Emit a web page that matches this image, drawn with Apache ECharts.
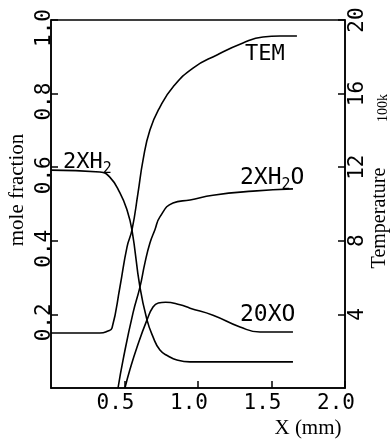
<!DOCTYPE html>
<html>
<head>
<meta charset="utf-8">
<script src="https://cdn.jsdelivr.net/npm/echarts@6/dist/echarts.min.js"></script>
<style>
html,body{margin:0;padding:0;background:#fff;}
#c{width:390px;height:439px;}
</style>
</head>
<body>
<div id="c"></div>
<script>
// ---- data ----
const xTickLabels = ['0.5', '1.0', '1.5', '2.0'];
const leftTickLabels = ['0.2', '0.4', '0.6', '0.8', '1.0'];
const rightTickLabels = ['4', '8', '12', '16', '20'];

// 2XH2 mole fraction
const h2X = [0, 0.333, 0.40, 0.469, 0.517, 0.551, 0.605, 0.653, 0.694, 0.741, 0.796, 0.857, 0.946, 1.10, 1.30, 1.50, 1.646];
const h2Y = [0.592, 0.587, 0.573, 0.530, 0.484, 0.429, 0.274, 0.185, 0.139, 0.103, 0.087, 0.076, 0.071, 0.071, 0.071, 0.071, 0.071];

// 2XH2O mole fraction
const h2oX = [0.456, 0.490, 0.558, 0.605, 0.639, 0.673, 0.707, 0.741, 0.830, 0.946, 1.102, 1.374, 1.646];
const h2oY = [0.0, 0.076, 0.204, 0.274, 0.340, 0.394, 0.430, 0.465, 0.503, 0.511, 0.524, 0.535, 0.541];

// 20XO mole fraction
const oX = [0.503, 0.537, 0.585, 0.653, 0.694, 0.730, 0.780, 0.878, 0.946, 1.102, 1.286, 1.422, 1.646];
const oY = [0.0, 0.050, 0.111, 0.185, 0.220, 0.231, 0.233, 0.226, 0.217, 0.198, 0.166, 0.152, 0.152];

// Temperature (100 K)
const temX = [0, 0.333, 0.388, 0.415, 0.469, 0.517, 0.551, 0.592, 0.626, 0.673, 0.741, 0.830, 0.966, 1.129, 1.306, 1.442, 1.558, 1.673];
const temY = [2.99, 2.99, 3.1, 3.26, 5.49, 7.66, 8.59, 10.6, 12.39, 14.02, 15.27, 16.36, 17.39, 18.1, 18.75, 19.08, 19.13, 19.13];

const pairs = (xs, ys) => xs.map((x, i) => [x, ys[i]]);

const chart = echarts.init(document.getElementById('c'));
const mono = 'DejaVu Sans Mono';
const black = '#000';
const lineBase = { type: 'line', symbol: 'none', smooth: 0.5,
  lineStyle: { color: black, width: 1.6 }, animation: false, silent: true };

chart.setOption({
  backgroundColor: '#fff',
  animation: false,
  grid: { left: 51, right: 45, top: 20, bottom: 51, show: true, borderColor: black, borderWidth: 1.5,
    containLabel: false, outerBoundsMode: 'none' },
  xAxis: {
    type: 'value', min: 0, max: 2, interval: 0.5,
    axisLine: { lineStyle: { color: black, width: 1.5 } },
    axisTick: { inside: true, length: 7, lineStyle: { color: black, width: 1.5 } },
    splitLine: { show: false },
    axisLabel: {
      showMinLabel: false, color: black, fontFamily: mono, fontSize: 21, margin: 5,
      padding: [0, 18, 0, 0],
      formatter: v => xTickLabels[Math.round(v / 0.5) - 1] || ''
    }
  },
  yAxis: [
    {
      type: 'value', min: 0, max: 1, interval: 0.2, position: 'left',
      axisLine: { show: true, lineStyle: { color: black, width: 1.5 } },
      axisTick: { show: true, inside: true, length: 7, lineStyle: { color: black, width: 1.5 } },
      splitLine: { show: false },
      axisLabel: {
        showMinLabel: false, rotate: 90, color: black, fontFamily: mono, fontSize: 21, margin: -4,
        padding: [0, 16, 0, 0],
        formatter: v => leftTickLabels[Math.round(v / 0.2) - 1] || ''
      }
    },
    {
      type: 'value', min: 0, max: 20, interval: 4, position: 'right',
      axisLine: { show: true, lineStyle: { color: black, width: 1.5 } },
      axisTick: { show: true, inside: true, length: 7, lineStyle: { color: black, width: 1.5 } },
      splitLine: { show: false },
      axisLabel: {
        showMinLabel: false, rotate: 90, color: black, fontFamily: mono, fontSize: 21, margin: 2,
        formatter: v => rightTickLabels[Math.round(v / 4) - 1] || ''
      }
    }
  ],
  series: [
    Object.assign({}, lineBase, { name: '2XH2', data: pairs(h2X, h2Y), yAxisIndex: 0 }),
    Object.assign({}, lineBase, { name: '2XH2O', data: pairs(h2oX, h2oY), yAxisIndex: 0 }),
    Object.assign({}, lineBase, { name: '20XO', data: pairs(oX, oY), yAxisIndex: 0 }),
    Object.assign({}, lineBase, { name: 'TEM', data: pairs(temX, temY), yAxisIndex: 1 })
  ],
  graphic: [
    { type: 'text', x: 17, y: 190, rotation: Math.PI / 2,
      style: { text: 'mole fraction', font: '21px "Liberation Serif"', fill: black, textAlign: 'center', textVerticalAlign: 'middle' } },
    { type: 'text', x: 380, y: 218, rotation: Math.PI / 2,
      style: { text: 'Temperature', font: '20px "Liberation Serif"', fill: black, textAlign: 'center', textVerticalAlign: 'middle' } },
    { type: 'text', x: 383, y: 108, rotation: Math.PI / 2,
      style: { text: '100k', font: '14px "Liberation Serif"', fill: black, textAlign: 'center', textVerticalAlign: 'middle' } },
    { type: 'text', x: 308, y: 428,
      style: { text: 'X (mm)', font: '21px "Liberation Serif"', fill: black, textAlign: 'center', textVerticalAlign: 'middle' } },
    { type: 'text', x: 63, y: 162,
      style: { text: '{m|2XH}{s|2}', fill: black, textAlign: 'left', textVerticalAlign: 'middle',
        rich: { m: { fontFamily: mono, fontSize: 22, lineHeight: 30, verticalAlign: 'middle', fill: black },
                s: { fontFamily: mono, fontSize: 15, lineHeight: 15, verticalAlign: 'bottom', fill: black } } } },
    { type: 'text', x: 240, y: 178,
      style: { text: '{m|2XH}{s|2}{m|O}', fill: black, textAlign: 'left', textVerticalAlign: 'middle',
        rich: { m: { fontFamily: mono, fontSize: 23, lineHeight: 30, verticalAlign: 'middle', fill: black },
                s: { fontFamily: mono, fontSize: 15, lineHeight: 15, verticalAlign: 'bottom', fill: black } } } },
    { type: 'text', x: 245, y: 54,
      style: { text: 'TEM', font: '22px "DejaVu Sans Mono"', fill: black, textAlign: 'left', textVerticalAlign: 'middle' } },
    { type: 'text', x: 240, y: 315,
      style: { text: '20XO', font: '23px "DejaVu Sans Mono"', fill: black, textAlign: 'left', textVerticalAlign: 'middle' } }
  ]
});
</script>
</body>
</html>
